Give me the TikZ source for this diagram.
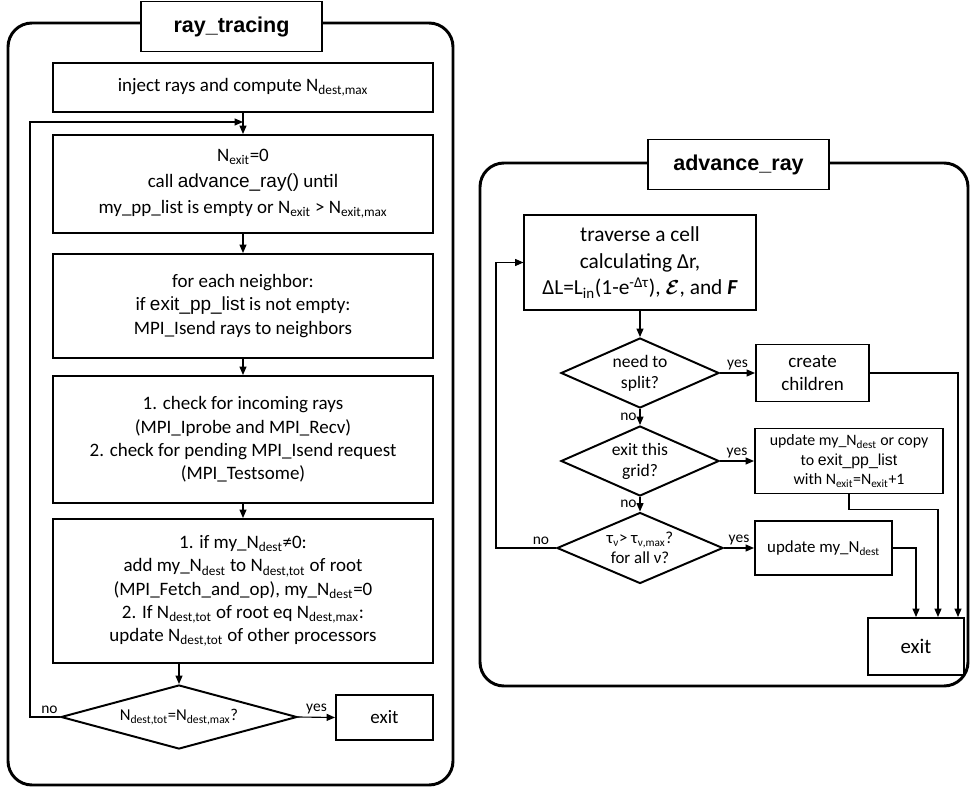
\documentclass[tikz,border=0pt]{standalone}
\usepackage{amsmath}
\usepackage{fontspec}
\setmainfont{Carlito}
\newfontfamily\arialfont{Liberation Sans}
\usetikzlibrary{shapes.geometric, arrows.meta}
\newcommand{\Nsub}[1]{N\textsubscript{#1}}

\begin{document}
\begin{tikzpicture}[
  x=0.025cm, y=-0.025cm,
  frame/.style={draw, line width=2.1pt, rounded corners=0.6cm},
  title/.style={draw, fill=white, line width=1.4pt, minimum width=4.525cm, minimum height=1.25cm,
                font=\arialfont\bfseries\fontsize{15.3}{18}\selectfont},
  box/.style={draw, line width=1.4pt, align=center, inner sep=1pt},
  dec/.style={diamond, draw, line width=1.4pt, align=center, inner sep=0pt},
  arr/.style={->, >={Triangle[length=6pt,width=5pt]}, line width=0.8pt},
  lbl/.style={font=\fontsize{11}{13}\selectfont, inner sep=2pt},
  font=\fontsize{13.5}{16.5}\selectfont
]
\useasboundingbox (0,0) rectangle (974,788);

% ---- ray_tracing (left) ----
\draw[frame] (8,23) rectangle (453,785);
\node[title] (rt) at (231.5,26.5) {ray\_tracing};

\node[box, minimum width=9.5cm, minimum height=1.225cm] (inj)  at (243,87.5)
  {inject rays and compute \Nsub{dest,max}};
\node[box, minimum width=9.5cm, minimum height=2.45cm]  (adv)  at (243,184)
  {\Nsub{exit}=0\\[2pt]call {\arialfont advance\_ray()} until\\[2pt]my\_pp\_list is empty or \Nsub{exit} > \Nsub{exit,max}};
\node[box, minimum width=9.5cm, minimum height=2.6cm]   (send) at (243,306)
  {for each neighbor:\\if {\arialfont exit\_pp\_list} is not empty:\\MPI\_Isend rays to neighbors};
\node[box, minimum width=9.5cm, minimum height=3.175cm] (recv) at (243,439.5)
  {1. check for incoming rays\\(MPI\_Iprobe and MPI\_Recv)\\2. check for pending MPI\_Isend request\\(MPI\_Testsome)};
\node[box, minimum width=9.5cm, minimum height=3.6cm]   (sync) at (243,591)
  {1. if my\_\Nsub{dest}≠0:\\add my\_\Nsub{dest} to \Nsub{dest,tot} of root\\(MPI\_Fetch\_and\_op), my\_\Nsub{dest}=0\\2. If \Nsub{dest,tot} of root eq \Nsub{dest,max}:\\update \Nsub{dest,tot} of other processors};
\node[dec, minimum width=5.9cm, minimum height=1.6cm, aspect=3.7, font=\fontsize{11.8}{14}\selectfont] (done) at (179,717)
  {\Nsub{dest,tot}=\Nsub{dest,max}?};
\node[box, minimum width=2.425cm, minimum height=1.125cm] (rtexit) at (384.5,717.5) {exit};
\coordinate (back) at (243,122);

% ---- left arrows ----
\draw[arr] (inj) -- (adv);
\draw[arr] (adv) -- (send);
\draw[arr] (send) -- (recv);
\draw[arr] (recv) -- (sync);
\draw[arr] (sync.south -| done.north) -- (done.north);
\draw[arr] (done.east) -- node[lbl, above]{yes} (rtexit.west);
\draw[arr] (done.west) -- node[lbl, above, pos=0.35]{no} ++(-30,0) |- (back);

% ---- advance_ray (right) ----
\draw[frame] (480,163) rectangle (968,686);
\node[title] (ar) at (738.5,164.5) {advance\_ray};

\node[box, minimum width=5.775cm, minimum height=2.375cm, font=\fontsize{15.2}{19}\selectfont] (cell) at (640,262.5)
  {traverse a cell\\calculating Δr,\\ΔL=L\textsubscript{in}(1-e\textsuperscript{-Δτ}), $\boldsymbol{\mathcal{E}}$, and \textbf{\textit{F}}};
\node[dec, minimum width=3.95cm, minimum height=1.75cm, aspect=2.25, font=\fontsize{12.5}{15}\selectfont] (split) at (640,373)
  {need to\\split?};
\node[box, minimum width=2.825cm, minimum height=1.425cm] (child) at (812.5,373) {create\\children};
\node[dec, minimum width=3.95cm, minimum height=1.75cm, aspect=2.25, font=\fontsize{12.5}{15}\selectfont] (leave) at (640,461)
  {exit this\\grid?};
\node[box, minimum width=4.7cm, minimum height=1.625cm, font=\fontsize{11.3}{13.8}\selectfont] (copy) at (849,461)
  {update my\_\Nsub{dest} or copy\\to {\arialfont exit\_pp\_list}\\with \Nsub{exit}=\Nsub{exit}+1};
\node[dec, minimum width=4.15cm, minimum height=1.775cm, aspect=2.3, font=\fontsize{12}{14}\selectfont] (thick) at (640,548)
  {τ\textsubscript{ν}> τ\textsubscript{ν,max}?\\for all ν?};
\node[box, minimum width=3.425cm, minimum height=1.35cm, font=\fontsize{12}{14}\selectfont] (upd) at (823.5,548)
  {update my\_\Nsub{dest}};
\node[box, minimum width=2.4cm, minimum height=1.425cm, font=\fontsize{14.8}{17}\selectfont] (arexit) at (916,646.5) {exit};

% ---- right arrows ----
\draw[arr] (cell) -- (split);
\draw[arr] (split) -- node[lbl, left]{no} (leave);
\draw[arr] (leave) -- node[lbl, left]{no} (thick);
\draw[arr] (split) -- node[lbl, above]{yes} (child);
\draw[arr] (leave) -- node[lbl, above]{yes} (copy);
\draw[arr] (thick) -- node[lbl, above]{yes} (upd);
\draw[arr] (thick.west) -- node[lbl, above, pos=0.25]{no} ++(-60,0) |- (cell.west);
\draw[arr] (child.east) -| ([xshift=-0.175cm]arexit.north east);
\draw[arr] (copy.south) -- ++(0,15) -| ([xshift=-0.675cm]arexit.north east);
\draw[arr] (upd.east) -| (arexit.north);

\end{tikzpicture}
\end{document}
